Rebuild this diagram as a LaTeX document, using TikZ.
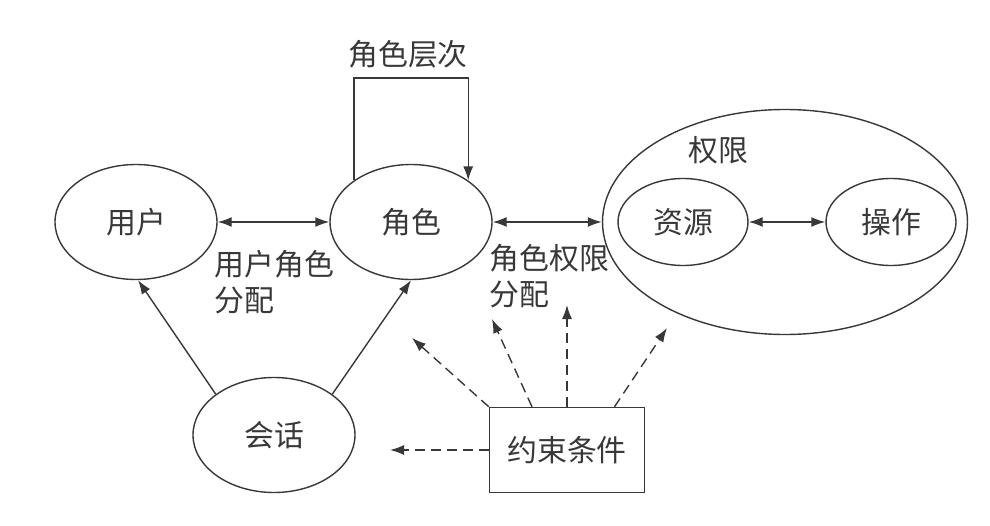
\documentclass[tikz,border=0pt]{standalone}
\usepackage{fontspec}
\newfontfamily\cjk{Noto Sans CJK SC}
\definecolor{inkgray}{rgb}{0.22,0.22,0.22}
\usetikzlibrary{shapes.geometric,arrows.meta}

\begin{document}
\begin{tikzpicture}[
        font=\cjk\fontsize{17}{20.5}\selectfont,
        color=inkgray, line width=0.8pt,
        >={Latex[length=2.8mm,width=2mm]},
        role/.style={draw, ellipse, minimum width=3.24cm, minimum height=2.3cm},
        inner/.style={draw, ellipse, minimum width=2.6cm, minimum height=1.74cm},
        limit/.style={->, dash pattern=on 2mm off 1.2mm}
    ]
        \useasboundingbox (0,0) rectangle (19.8,10.5);
        
        \node[role] (yonghu) at (2.72,6.06) {用户} ;
        \node[role] (jiaose) at (8.22,6.06) {角色} ;
        \node[role] (huihua) at (5.48,1.8) {会话} ;
        \node[draw, ellipse, minimum width=7.3cm, minimum height=4.5cm] (quanxian) at (15.7,6.06) {} ;
        \node (qxlabel) at (14.36,7.5) {权限} ;
        \node[inner] (ziyuan) at (13.66,6.06) {资源} ;
        \node[inner] (caozuo) at (17.82,6.06) {操作} ;
        \node[draw, minimum width=3.1cm, minimum height=1.7cm] (yueshu) at (11.34,1.5) {约束条件} ;
        
        \coordinate (top) at (8.16,8.94) ;
        \node (hier) at (8.16,9.42) {角色层次} ;
        \node[align=left, anchor=north west, inner sep=0] (yjlabel) at (4.28,5.5) {用户角色\\分配} ;
        \node[align=left, anchor=north west, inner sep=0] (jqlabel) at (9.78,5.62) {角色权限\\分配} ;
        
        \draw[->] (jiaose.144) |- (top) -| (jiaose.36) ;
        \draw[<->] (yonghu) -- (jiaose) ;
        \draw[<->] (jiaose) -- (quanxian) ;
        \draw[<->] (ziyuan) -- (caozuo) ;
        \draw[->] (huihua.145) -- (yonghu.-88) ;
        \draw[->] (huihua.35) -- (jiaose.south) ;
        
        \coordinate (c1) at (8.24,3.74) ;
        \coordinate (c2) at (9.84,4.12) ;
        \coordinate (c3) at (11.34,4.4) ;
        \coordinate (c4) at (13.34,3.94) ;
        \coordinate (c5) at (7.8,1.5) ;
        
        \draw[limit] (yueshu.north west) -- (c1) ;
        \draw[limit] ([xshift=-0.7cm]yueshu.north) -- (c2) ;
        \draw[limit] (yueshu.north) -- (c3) ;
        \draw[limit] ([xshift=0.95cm]yueshu.north) -- (c4) ;
        \draw[limit] (yueshu.west) -- (c5) ;
        
    \end{tikzpicture}
\end{document}
